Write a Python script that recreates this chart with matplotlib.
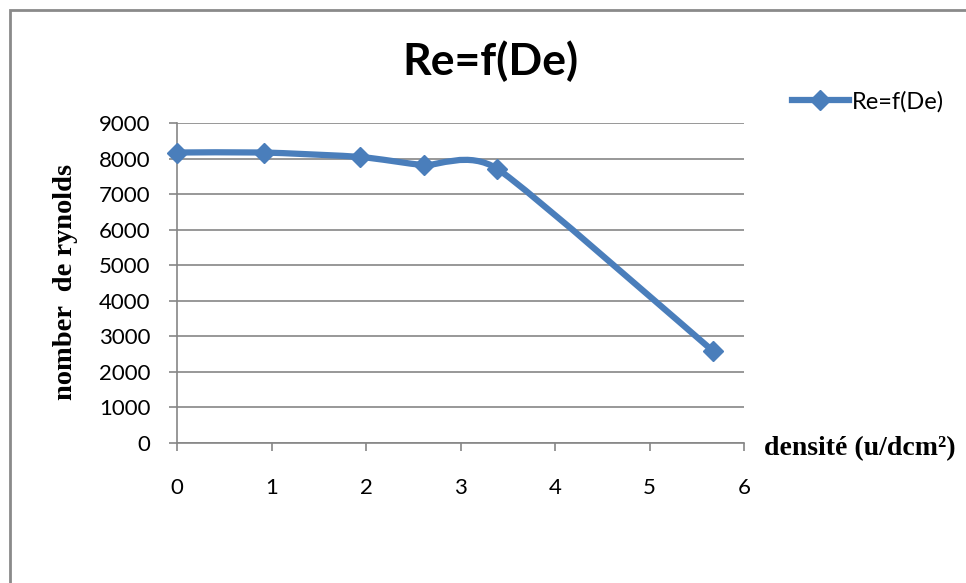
import matplotlib.pyplot as plt
from matplotlib.path import Path
from matplotlib.patches import PathPatch, Rectangle
from matplotlib.lines import Line2D

# valeurs
densite = [0, 0.92, 1.94, 2.61, 3.39, 5.67]
reynolds = [8170, 8170, 8045, 7815, 7710, 2590]
x_ticks = [0, 1, 2, 3, 4, 5, 6]
y_ticks = [0, 1000, 2000, 3000, 4000, 5000, 6000, 7000, 8000, 9000]
serie = 'Re=f(De)'

blue = '#4A7EBB'
grey = '#868686'
W, H = 966, 583

fig = plt.figure(figsize=(W / 100, H / 100), dpi=100)
fig.patch.set_facecolor('white')

# cadre du graphique (coupé à droite et en bas)
top = 1 - 10 / H
fig.patches.append(Rectangle((10 / W, -0.5), 2, top + 0.5, transform=fig.transFigure,
                             fill=False, edgecolor='#8a8a8a', lw=2))

ax = fig.add_axes([177 / W, 1 - 443 / H, (744 - 177) / W, (443 - 123) / H])

# courbe lissée façon Excel (bezier)
k = 0.1
pts = list(zip(densite, reynolds))
verts = [pts[0]]
codes = [Path.MOVETO]
n = len(pts)
for i in range(n - 1):
    p0 = pts[max(i - 1, 0)]
    p1 = pts[i]
    p2 = pts[i + 1]
    p3 = pts[min(i + 2, n - 1)]
    c1 = (p1[0] + k * (p2[0] - p0[0]), p1[1] + k * (p2[1] - p0[1]))
    c2 = (p2[0] - k * (p3[0] - p1[0]), p2[1] - k * (p3[1] - p1[1]))
    verts += [c1, c2, p2]
    codes += [Path.CURVE4] * 3
ax.add_patch(PathPatch(Path(verts, codes), fill=False, edgecolor=blue, lw=4.5,
                       capstyle='round', joinstyle='round', zorder=3))
ax.plot(densite, reynolds, ls='none', marker='D', ms=10, color=blue, zorder=4, clip_on=False)

ax.set_xlim(0, 6)
ax.set_ylim(0, 9000)
ax.set_xticks(x_ticks)
ax.set_yticks(y_ticks)
ax.yaxis.grid(True, color=grey, lw=1.2)
ax.set_axisbelow(True)
for s in ['top', 'right']:
    ax.spines[s].set_visible(False)
for s in ['left', 'bottom']:
    ax.spines[s].set_color(grey)
    ax.spines[s].set_linewidth(1.2)
ax.tick_params(axis='both', direction='out', length=6, width=1.2, color=grey,
               labelsize=16)
ax.tick_params(axis='x', pad=19)
ax.tick_params(axis='y', pad=13)
for lab in ax.get_xticklabels() + ax.get_yticklabels():
    lab.set_family('Lato')

handle = Line2D([], [], color=blue, lw=4.5, marker='D', ms=10)
ax.legend(handles=[handle], labels=[serie], loc='center left',
          bbox_to_anchor=(792 / W, 1 - 102 / H), bbox_transform=fig.transFigure,
          frameon=False, borderpad=0, borderaxespad=0, handlelength=2.4,
          handletextpad=0.15, prop={'family': 'Lato', 'size': 17})

fig.text(490 / W, 1 - 75 / H, 'Re=f(De)', ha='center', va='baseline',
         fontsize=32, fontweight='bold', family='Lato')
fig.text(764 / W, 1 - 455 / H, 'densité (u/dcm²)', ha='left', va='baseline',
         fontsize=20, fontweight='bold', family='Liberation Serif')
fig.text(66 / W, 1 - 282 / H, 'nomber  de rynolds', ha='center', va='center',
         rotation=90, fontsize=20.5, fontweight='bold', family='Liberation Serif')

plt.savefig('out.png', dpi=100)
plt.close(fig)
